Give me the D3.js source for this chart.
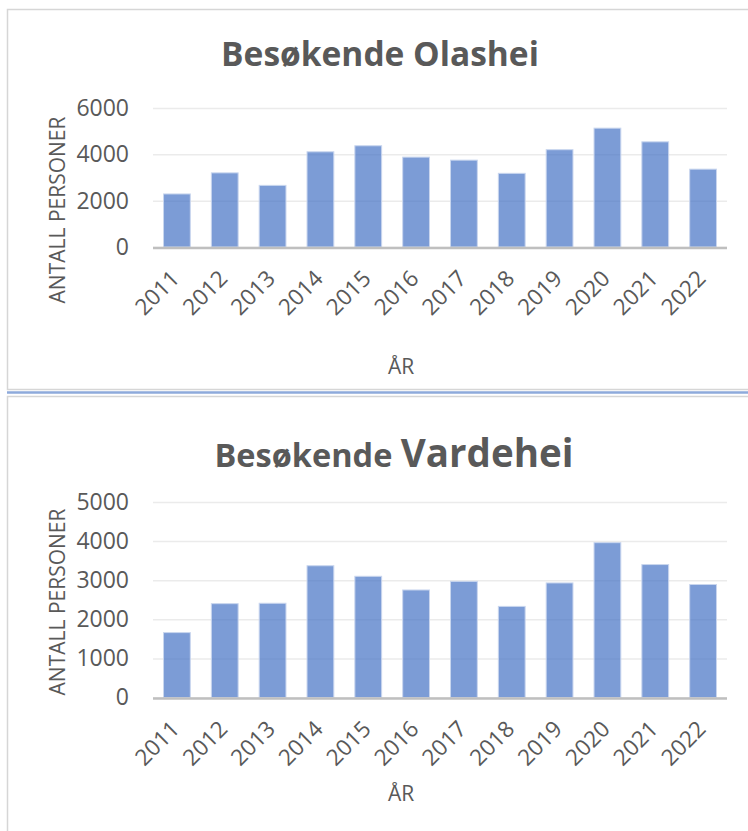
<!DOCTYPE html>
<html>
<head>
<meta charset="utf-8">
<script src="https://cdn.jsdelivr.net/npm/d3@7"></script>
<style>
  body { margin: 0; background: #fff; }
  svg { display: block; font-family: "Open Sans", sans-serif; }
</style>
</head>
<body>
<svg width="748" height="831"></svg>
<script>
var svg = d3.select("svg");

// data
var years = ["2011", "2012", "2013", "2014", "2015", "2016",
             "2017", "2018", "2019", "2020", "2021", "2022"];
var olashei = [2290, 3200, 2660, 4110, 4370, 3880, 3750, 3180, 4200, 5130, 4540, 3360];
var vardehei = [1660, 2400, 2410, 3370, 3100, 2750, 2970, 2330, 2930, 3960, 3400, 2890];
var olasheiTicks = [0, 2000, 4000, 6000];
var vardeheiTicks = [0, 1000, 2000, 3000, 4000, 5000];

var textCol = "#595959";

// chart frames (the second one runs off the bottom/right)
svg.append("rect").attr("x", 7.5).attr("y", 9.5).attr("width", 760).attr("height", 380)
    .attr("fill", "none").attr("stroke", "#d6d6d6").attr("stroke-width", 1.5);
svg.append("line").attr("x1", 7).attr("x2", 748).attr("y1", 392.5).attr("y2", 392.5)
    .attr("stroke", "#8eaadb").attr("stroke-width", 2.5);
svg.append("rect").attr("x", 7.5).attr("y", 396.5).attr("width", 760).attr("height", 460)
    .attr("fill", "none").attr("stroke", "#d6d6d6").attr("stroke-width", 1.5);

function drawChart(opt) {
    var g = svg.append("g");

    var x = d3.scaleBand().domain(years).range([153, 727])
        .paddingInner(0.44).paddingOuter(0.22);
    var y = d3.scaleLinear().domain([0, opt.max]).range([opt.y0, opt.y1]);

    // gridlines + y labels
    var yAxis = g.append("g").attr("transform", "translate(153,0)")
        .call(d3.axisLeft(y).tickValues(opt.ticks).tickFormat(d3.format("d"))
            .tickSize(-574).tickPadding(24));
    yAxis.select(".domain").remove();
    yAxis.selectAll(".tick line").attr("stroke", "#ebebeb").attr("stroke-width", 1.5);
    yAxis.selectAll(".tick text").attr("fill", textCol)
        .style("font-size", "23px").style("font-family", "Open Sans");

    // bars
    g.selectAll(".bar").data(opt.values).enter().append("rect")
        .attr("class", "bar")
        .attr("x", function(d, i) { return x(years[i]); })
        .attr("width", x.bandwidth())
        .attr("y", function(d) { return y(d); })
        .attr("height", function(d) { return opt.y0 - y(d); })
        .attr("fill", "#4472c4").attr("fill-opacity", 0.7)
        .attr("stroke", "#c9d6ee").attr("stroke-width", 1);

    // base line
    g.append("line").attr("x1", 153).attr("x2", 727)
        .attr("y1", opt.y0 + 1).attr("y2", opt.y0 + 1)
        .attr("stroke", "#bfbfbf").attr("stroke-width", 2.5);

    // rotated year labels
    g.selectAll(".xl").data(years).enter().append("text")
        .attr("class", "xl")
        .attr("transform", function(d) {
            return "translate(" + (x(d) + x.bandwidth() / 2 + 4) + "," + (opt.y0 + 33) + ") rotate(-45)";
        })
        .attr("text-anchor", "end")
        .attr("fill", textCol).style("font-size", "22.5px")
        .text(function(d) { return d; });

    // axis titles
    g.append("text")
        .attr("transform", "translate(" + 65 + "," + opt.ytCenter + ") rotate(-90)")
        .attr("text-anchor", "middle").attr("fill", textCol).style("font-size", "21px")
        .text("ANTALL PERSONER");
    g.append("text").attr("x", 401).attr("y", opt.arY)
        .attr("text-anchor", "middle").attr("fill", textCol).style("font-size", "21px")
        .text("ÅR");

    return g;
}

drawChart({ values: olashei, ticks: olasheiTicks, max: 6000, y0: 247, y1: 108,
            ytCenter: 210, arY: 374 });
drawChart({ values: vardehei, ticks: vardeheiTicks, max: 5000, y0: 697.5, y1: 502,
            ytCenter: 602, arY: 801 });

// titles
svg.append("text").attr("x", 380).attr("y", 66).attr("text-anchor", "middle")
    .attr("fill", textCol).style("font-size", "33.5px").style("font-weight", "bold")
    .text("Besøkende Olashei");
var t2 = svg.append("text").attr("x", 394).attr("y", 467).attr("text-anchor", "middle")
    .attr("fill", textCol).style("font-weight", "bold");
t2.append("tspan").style("font-size", "32.5px").text("Besøkende ");
t2.append("tspan").style("font-size", "38.5px").text("Vardehei");
</script>
</body>
</html>
